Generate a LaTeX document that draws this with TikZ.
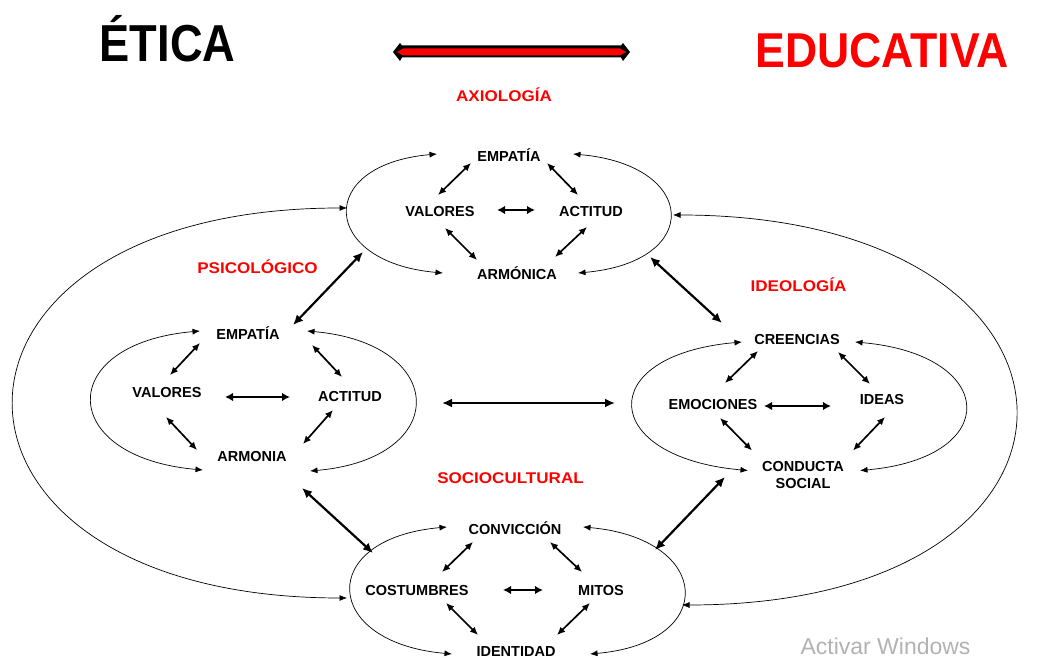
\documentclass[tikz,border=0pt]{standalone}
\usepackage{fontspec}
\setmainfont{Liberation Sans}
\usepackage{tikz}
\usetikzlibrary{shapes,arrows,arrows.meta,positioning}

\begin{document}
\begin{tikzpicture}[x=1pt, y=1pt, node distance=60pt]
    % Define styles
    \tikzstyle{term} = [font=\fontsize{14.5}{17}\selectfont\bfseries, inner sep=2pt, align=center]
    \tikzstyle{area} = [text=red, font=\fontsize{15.5}{18}\selectfont\bfseries, xscale=1.1, anchor=base]
    \tikzstyle{link} = [line width=1.7pt, {Latex[length=8pt,width=7pt]}-{Latex[length=8pt,width=7pt]}]
    \tikzstyle{wide} = [line width=2.6pt, {Latex[length=8pt,width=8.5pt]}-{Latex[length=8pt,width=8.5pt]}]
    \tikzstyle{bridge} = [line width=2.2pt, {Latex[length=10pt,width=9pt]}-{Latex[length=10pt,width=9pt]}]
    \tikzstyle{ring} = [line width=0.7pt, {Latex[length=7.5pt,width=6pt]}-{Latex[length=7.5pt,width=6pt]}]

    \useasboundingbox (0,0) rectangle (1041,658);

    % Title
    \node [font=\fontsize{52}{60}\selectfont\bfseries, xscale=0.87, anchor=base] (etica) at (167.5,596) {ÉTICA};
    \node [text=red, font=\fontsize{49}{56}\selectfont\bfseries, xscale=0.91, anchor=base] (educativa) at (882,590) {EDUCATIVA};
    \fill [black] (393,606) -- (400,615) -- (402,612.5) -- (621,612.5) -- (623,615) -- (630,606)
        -- (623,597) -- (621,600.5) -- (402,600.5) -- (400,597) -- cycle;
    \fill [red] (397,606) -- (403,609.5) -- (620,609.5) -- (626,606) -- (620,602.5) -- (403,602.5) -- cycle;

    % Areas
    \node [area] (axiologia) at (504,556) {AXIOLOGÍA};
    \node [area] (psicologico) at (257.5,384) {PSICOLÓGICO};
    \node [area] (ideologia) at (798.5,366) {IDEOLOGÍA};
    \node [area] (sociocultural) at (510.5,174) {SOCIOCULTURAL};

    % Axiologia
    \node [term] (emp1) at (509,503) {EMPATÍA};
    \node [term, below of=emp1, xshift=-69pt, yshift=3pt] (val1) {VALORES};
    \node [term, below of=emp1, xshift=82pt, yshift=3pt] (act1) {ACTITUD};
    \node [term, below of=emp1, xshift=8pt, yshift=-58pt] (arm1) {ARMÓNICA};

    % Psicologico
    \node [term] (emp2) at (248,325) {EMPATÍA};
    \node [term, below of=emp2, xshift=-81pt] (val2) {VALORES};
    \node [term, below of=emp2, xshift=102pt, yshift=-4pt] (act2) {ACTITUD};
    \node [term, below of=emp2, xshift=4pt, yshift=-64pt] (arm2) {ARMONIA};

    % Ideologia
    \node [term] (cre) at (797,318) {CREENCIAS};
    \node [term, below of=cre, xshift=-84pt, yshift=-5pt] (emo) {EMOCIONES};
    \node [term, below of=cre, xshift=85pt] (ide) {IDEAS};
    \node [term, below of=cre, xshift=6pt, yshift=-75.5pt] (con) {CONDUCTA\\SOCIAL};

    % Sociocultural
    \node [term] (cnv) at (515,130) {CONVICCIÓN};
    \node [term, below of=cnv, xshift=-98pt, yshift=-3pt] (cos) {COSTUMBRES};
    \node [term, below of=cnv, xshift=86pt, yshift=-3pt] (mit) {MITOS};
    \node [term, below of=cnv, xshift=1pt, yshift=-64pt] (ide2) {IDENTIDAD};

    \node [text=black!30, font=\fontsize{23}{27}\selectfont, anchor=base west] (aviso) at (797,3) {Activar Windows};

    % Axiologia arrows
    \draw [link] ([shift={(-38,-8)}]emp1.center) -- ([shift={(-2,17)}]val1.center);
    \draw [link] ([shift={(38,-8)}]emp1.center) -- ([shift={(-13,17)}]act1.center);
    \draw [wide] ([shift={(57,2)}]val1.center) -- ([shift={(-56,2)}]act1.center);
    \draw [link] ([shift={(5,-16)}]val1.center) -- ([shift={(-40,13)}]arm1.center);
    \draw [link] ([shift={(-4,-15)}]act1.center) -- ([shift={(38,16)}]arm1.center);
    \draw [ring] ([shift={(-72,1)}]emp1.center) to[out=185, in=175, looseness=2.64] ([shift={(-74,0)}]arm1.center);
    \draw [ring] ([shift={(64,1)}]emp1.center) to[out=-5, in=5, looseness=2.7] ([shift={(61,0)}]arm1.center);

    % Psicologico arrows
    \draw [link] ([shift={(-48,-10)}]emp2.center) -- ([shift={(3,18)}]val2.center);
    \draw [link] ([shift={(64,-12)}]emp2.center) -- ([shift={(-8,20)}]act2.center);
    \draw [wide] ([shift={(58,-4)}]val2.center) -- ([shift={(-60,0)}]act2.center);
    \draw [link] ([shift={(-1,-24)}]val2.center) -- ([shift={(-55,7)}]arm2.center);
    \draw [link] ([shift={(-17,-13)}]act2.center) -- ([shift={(51,13)}]arm2.center);
    \draw [ring] ([shift={(-48,2)}]emp2.center) to[out=185, in=175, looseness=2.69] ([shift={(-49,-13)}]arm2.center);
    \draw [ring] ([shift={(59,2)}]emp2.center) to[out=-5, in=5, looseness=2.59] ([shift={(58,-14)}]arm2.center);

    % Ideologia arrows
    \draw [link] ([shift={(-39,-11)}]cre.center) -- ([shift={(12,22)}]emo.center);
    \draw [link] ([shift={(41,-12)}]cre.center) -- ([shift={(-12,16)}]ide.center);
    \draw [wide] ([shift={(51,-1)}]emo.center) -- ([shift={(-51,-6)}]ide.center);
    \draw [link] ([shift={(7,-13)}]emo.center) -- ([shift={(-51,25)}]con.center);
    \draw [link] ([shift={(3,-17)}]ide.center) -- ([shift={(50,25)}]con.center);
    \draw [ring] ([shift={(-55,-2)}]cre.center) to[out=185, in=175, looseness=2.97] ([shift={(-55,5)}]con.center);
    \draw [ring] ([shift={(58,-2)}]cre.center) to[out=-5, in=5, looseness=2.86] ([shift={(57,5)}]con.center);

    % Sociocultural arrows
    \draw [link] ([shift={(-42,-14)}]cnv.center) -- ([shift={(25,19)}]cos.center);
    \draw [link] ([shift={(35,-14)}]cnv.center) -- ([shift={(-19,19)}]mit.center);
    \draw [wide] ([shift={(86,1)}]cos.center) -- ([shift={(-58,1)}]mit.center);
    \draw [link] ([shift={(29,-12)}]cos.center) -- ([shift={(-38,17)}]ide2.center);
    \draw [link] ([shift={(-11,-12)}]mit.center) -- ([shift={(41,17)}]ide2.center);
    \draw [ring] ([shift={(-68,1)}]cnv.center) to[out=185, in=175, looseness=2.64] ([shift={(-64,-2)}]ide2.center);
    \draw [ring] ([shift={(68,1)}]cnv.center) to[out=-5, in=5, looseness=2.61] ([shift={(74,-2)}]ide2.center);

    % Between areas
    \draw [bridge] ([shift={(-77,-40)}]val1.center) -- ([shift={(45,8)}]emp2.center);
    \draw [bridge] ([shift={(59,-45)}]act1.center) -- ([shift={(-75,17)}]cre.center);
    \draw [bridge] ([shift={(50,-31)}]arm2.center) -- ([shift={(-44,38)}]cos.center);
    \draw [bridge] ([shift={(-78,-1.5)}]con.center) -- ([shift={(54,41)}]mit.center);
    \draw [bridge] ([shift={(92,-6)}]act2.center) -- ([shift={(-98,2)}]emo.center);

    % Outer arcs
    \draw [ring] ([shift={(-93,4)}]val1.center) to[out=180, in=180, looseness=2.92] ([shift={(-70,-7)}]cos.center);
    \draw [ring] ([shift={(82,-3)}]act1.center) to[out=0, in=0, looseness=2.95] ([shift={(81,-14)}]mit.center);
\end{tikzpicture}
\end{document}
